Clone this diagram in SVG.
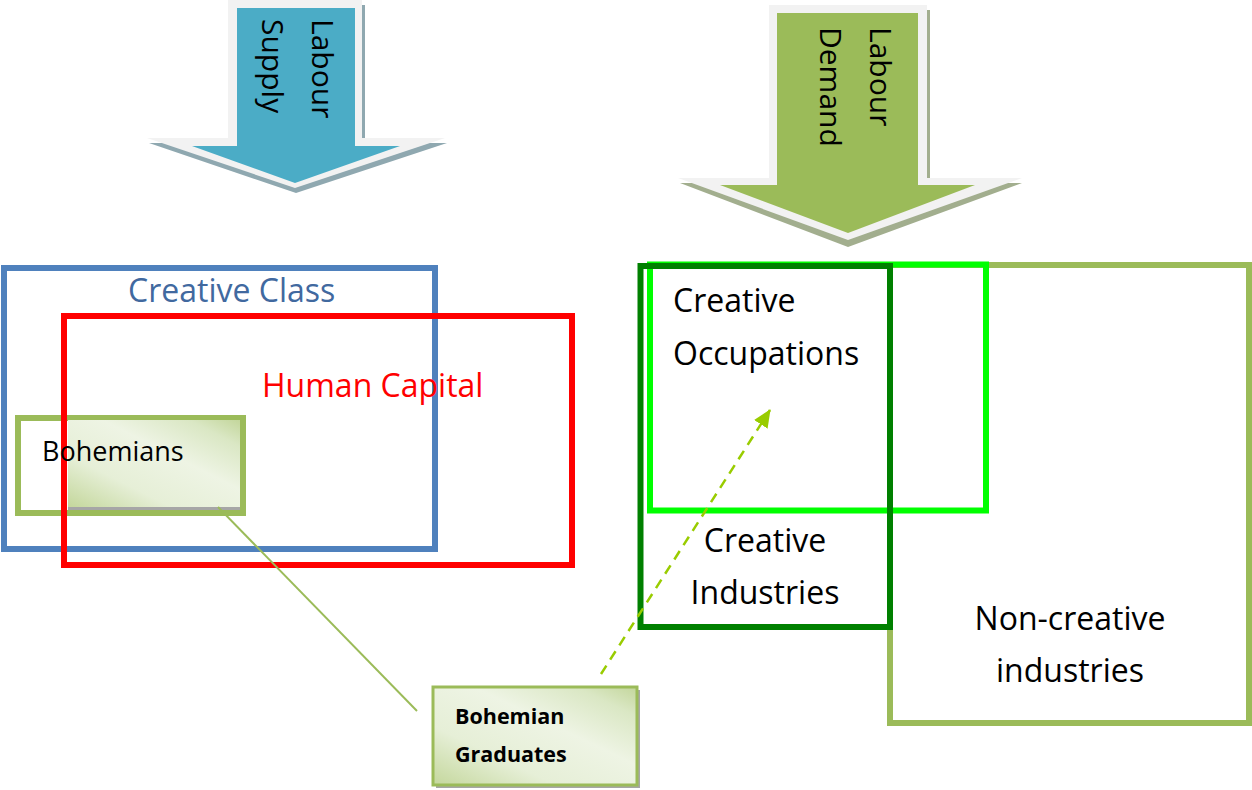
<svg xmlns="http://www.w3.org/2000/svg" width="1252" height="790" viewBox="0 0 1252 790">
<defs>
<style>
text{font-family:"Open Sans","Liberation Sans",sans-serif;fill:#000}
.lbl{font-size:32px}
.box{fill:none;stroke-width:6}
.arrowtxt{font-size:30px}
.bold{font-weight:bold;font-size:21.5px}
</style>
<linearGradient id="gr" x1="0" y1="1" x2="1" y2="0">
<stop offset="0" stop-color="#c4d79c"/>
<stop offset="0.3" stop-color="#e6efd7"/>
<stop offset="0.6" stop-color="#eef4e4"/>
<stop offset="0.85" stop-color="#dae7c4"/>
<stop offset="1" stop-color="#c3d69b"/>
</linearGradient>
<marker id="ah" markerUnits="userSpaceOnUse" markerWidth="18" markerHeight="16" viewBox="0 0 18 16" refX="17" refY="8" orient="auto">
<path d="M0,0 L18,8 L0,16 z" fill="#99cc00"/>
</marker>
</defs>

<g id="labour-supply">
<polygon points="230,5 365,5 365,143 447,143 296,193 149,143 230,143" fill="#8fa8b0"/>
<polygon points="228,0 362,0 362,138 445,138 295,188 147,138 228,138" fill="#f2f2f2"/>
<polygon points="237,8 355,8 355,146 400,146 295,183 192,146 237,146" fill="#4bacc6"/>
<text class="arrowtxt" transform="translate(312,19) rotate(90)">Labour</text>
<text class="arrowtxt" transform="translate(262,19) rotate(90)">Supply</text>
</g>

<g id="labour-demand">
<polygon points="771,10 930,10 930,183 1022,183 848,247 680,183 771,183" fill="#a2ae8e"/>
<polygon points="769,5 927,5 927,178 1022,178 848,240 678,178 769,178" fill="#f2f2f2"/>
<polygon points="777,13 918,13 918,185 975,185 848,233 720,185 777,185" fill="#9bbb59"/>
<text class="arrowtxt" transform="translate(870,27) rotate(90)">Labour</text>
<text class="arrowtxt" transform="translate(820,27) rotate(90)">Demand</text>
</g>

<g id="creative-class">
<rect class="box" x="4" y="268" width="431" height="281" stroke="#4f81bd"/>
<text class="lbl" x="128" y="302" style="fill:#41699f">Creative Class</text>
</g>

<g id="bohemians-frame">
<rect class="box" x="18" y="418" width="225" height="95" stroke="#9bbb59"/>
</g>

<g id="human-capital">
<rect class="box" x="64" y="316" width="508" height="249" stroke="#ff0000"/>
<text class="lbl" x="262" y="397" style="fill:#ff0000">Human Capital</text>
</g>

<g id="bohemians">
<rect x="68" y="420" width="172" height="90" fill="#a6a6a6"/>
<rect x="68" y="420" width="172" height="87" fill="url(#gr)"/>
<text x="42" y="461" style="font-size:27px">Bohemians</text>
</g>

<g id="non-creative-industries">
<rect class="box" x="890" y="265" width="359" height="458" stroke="#9bbb59"/>
<text class="lbl" x="1070" y="630" text-anchor="middle">Non-creative</text>
<text class="lbl" x="1070" y="682" text-anchor="middle">industries</text>
</g>

<g id="creative-occupations">
<rect class="box" x="650" y="264.5" width="336" height="246" stroke="#00ff00"/>
<text class="lbl" x="673" y="312">Creative</text>
<text class="lbl" x="673" y="365">Occupations</text>
</g>

<g id="creative-industries">
<rect class="box" x="640.5" y="266" width="249.5" height="361" stroke="#008000"/>
<text class="lbl" x="765" y="552" text-anchor="middle">Creative</text>
<text class="lbl" x="765" y="604" text-anchor="middle">Industries</text>
</g>

<g id="bohemian-graduates">
<rect x="436" y="690" width="204" height="98" fill="#a6a6a6"/>
<rect x="433" y="687" width="204" height="98" fill="url(#gr)" stroke="#9bbb59" stroke-width="3"/>
<text class="bold" x="455" y="724">Bohemian</text>
<text class="bold" x="455" y="762">Graduates</text>
</g>

<g id="connectors">
<line x1="218" y1="507" x2="417" y2="711" stroke="#9bbb59" stroke-width="2"/>
<line x1="601" y1="674" x2="770" y2="410" stroke="#99cc00" stroke-width="2.5" stroke-dasharray="10,7" marker-end="url(#ah)"/>
</g>
</svg>
